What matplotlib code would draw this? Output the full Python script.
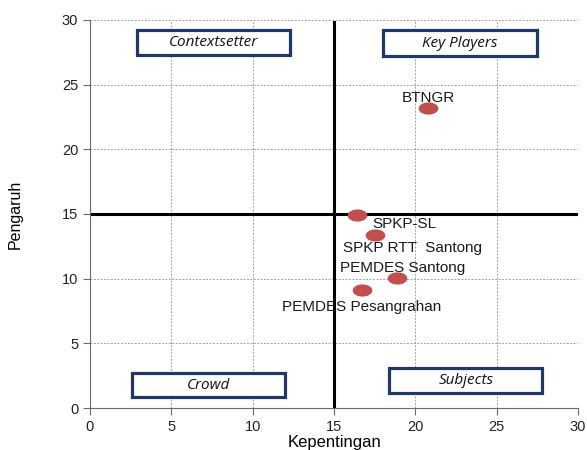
import numpy as np
import matplotlib
matplotlib.use("Agg")
import matplotlib.pyplot as plt
from matplotlib.path import Path
from matplotlib.patches import FancyBboxPatch

# data
names = ["BTNGR", "SPKP-SL", "SPKP RTT  Santong", "PEMDES Santong", "PEMDES Pesangrahan"]
kepentingan = [20.8, 16.4, 17.5, 18.9, 16.7]
pengaruh = [23.2, 14.9, 13.4, 10.05, 9.1]
# label offsets in points (dx, dy)
label_off = [(0, 7), (34, -6.5), (27, -9.5), (4, 7.5), (0, -12)]

quadrants = ["Contextsetter", "Key Players", "Crowd", "Subjects"]
quad_x = [(2.9, 12.3), (18.0, 27.5), (2.6, 12.0), (18.4, 27.8)]
quad_y = [(27.3, 29.2), (27.2, 29.2), (0.85, 2.7), (1.15, 3.1)]

plt.rcParams["font.family"] = ["Liberation Sans", "DejaVu Sans"]

fig = plt.figure(figsize=(5.87, 4.5), dpi=100)
ax = fig.add_axes([0.1533, 0.0933, 0.8314, 0.8623])

ax.set_xlim(0, 30)
ax.set_ylim(0, 30)
ax.set_xticks(range(0, 31, 5))
ax.set_yticks(range(0, 31, 5))
ax.grid(True, linestyle=(0, (2, 1.5)), color="#a0a0a0", linewidth=0.7)
ax.set_axisbelow(True)
for s in ["top", "right"]:
    ax.spines[s].set_visible(False)
for s in ["left", "bottom"]:
    ax.spines[s].set_color("#6b6b6b")
ax.tick_params(direction="out", length=5, color="#6b6b6b", labelsize=10.5, labelcolor="#222222")

# quadrant dividers
ax.axvline(15, ymin=0, ymax=0.995, color="black", linewidth=2.2)
ax.axhline(15, color="black", linewidth=2.2)

# ellipse marker
t = np.linspace(0, 2 * np.pi, 60)
ell = Path(np.column_stack([np.cos(t), 0.62 * np.sin(t)]), closed=True)
ax.scatter(kepentingan, pengaruh, marker=ell, s=200, color="#c0504d", zorder=5, linewidths=0)

for n, x, y, (dx, dy) in zip(names, kepentingan, pengaruh, label_off):
    ax.annotate(n, (x, y), xytext=(dx, dy), textcoords="offset points",
                ha="center", va="center", fontsize=11, color="#1a1a1a")

for q, (x0, x1), (y0, y1) in zip(quadrants, quad_x, quad_y):
    ax.add_patch(FancyBboxPatch((x0, y0), x1 - x0, y1 - y0, boxstyle="square,pad=0",
                                facecolor="white", edgecolor="#1f3864", linewidth=2.3, zorder=4))
    ax.text((x0 + x1) / 2, (y0 + y1) / 2, q, ha="center", va="center", fontsize=11,
            style="italic", family="Open Sans", color="#111111", zorder=6)

ax.set_xlabel("Kepentingan", fontsize=12, labelpad=1)
ax.set_ylabel("Pengaruh", fontsize=11.5, labelpad=28)

fig.savefig("out.png", dpi=100)
